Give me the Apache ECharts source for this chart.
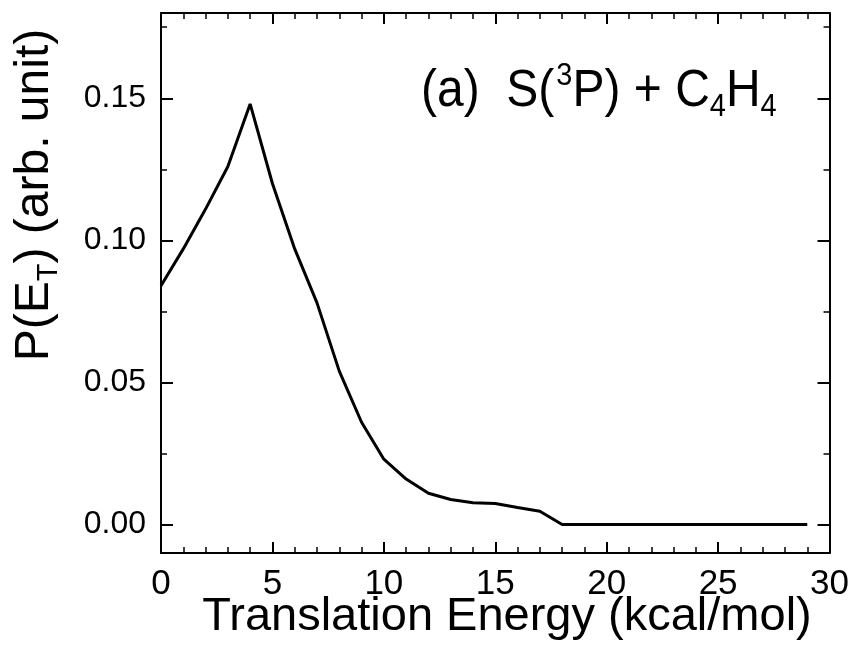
<!DOCTYPE html>
<html><head><meta charset="utf-8">
<script src="https://cdn.jsdelivr.net/npm/echarts@6/dist/echarts.min.js"></script>
<style>html,body{margin:0;padding:0;background:#fff}#c{width:852px;height:662px}</style>
</head><body><div id="c"></div>
<script>
const energy = [0,1,2,3,4,5,6,7,8,9,10,11,12,13,14,15,16,17,18,19,20,21,22,23,24,25,26,27,28,29];
const probability = [0.084,0.097,0.111,0.126,0.148,0.120,0.097,0.078,0.054,0.036,0.023,0.016,0.011,0.0088,0.0077,0.0074,0.006,0.0047,0,0,0,0,0,0,0,0,0,0,0,0];
const xRange = [0, 30];
const xInterval = 5;
const yRange = [-0.01, 0.18];
const yMajorTicks = [0, 0.05, 0.10, 0.15];
const yMinorTicks = [0.025, 0.075, 0.125, 0.175];
const xTitle = 'Translation Energy (kcal/mol)';
const yTitleRich = '{n|P(E}{sub|T}{n|) (arb. unit)}';
const annotationRich = '{n|(a)  S(}{sup|3}{n|P) + C}{sub|4}{n|H}{sub|4}';

const FONT = '"Liberation Sans", Arial, sans-serif';
const chart = echarts.init(document.getElementById('c'), null, {renderer: 'canvas'});
const points = energy.map((e, i) => [e, probability[i]]);

function xAx(pos, showLabel) {
  return {
    type: 'value', position: pos, min: xRange[0], max: xRange[1], interval: xInterval,
    axisLine: {show: true, onZero: false, lineStyle: {color: '#000', width: 2}},
    axisTick: {show: true, inside: true, length: 11, lineStyle: {color: '#000', width: 2}},
    minorTick: {show: true, splitNumber: 5, length: 6, lineStyle: {color: '#000', width: 1.5}},
    axisLabel: {show: showLabel, fontSize: 35, color: '#000', fontFamily: FONT, margin: 14},
    splitLine: {show: false}, minorSplitLine: {show: false}
  };
}
function yAx(pos, ticks, len, showLine, showLabel) {
  return {
    type: 'value', position: pos, offset: 0, min: yRange[0], max: yRange[1],
    axisLine: {show: showLine, onZero: false, lineStyle: {color: '#000', width: 2}},
    axisTick: {show: true, inside: true, length: len, customValues: ticks, lineStyle: {color: '#000', width: len > 8 ? 2 : 1.5}},
    axisLabel: {show: showLabel, customValues: ticks, fontSize: 32, color: '#000', fontFamily: FONT, margin: 15,
      formatter: v => v.toFixed(2)},
    splitLine: {show: false}
  };
}

chart.setOption({
  backgroundColor: '#fff',
  animation: false,
  grid: {left: 161, right: 22, top: 13, bottom: 109, containLabel: false},
  xAxis: [xAx('bottom', true), xAx('top', false)],
  yAxis: [
    yAx('left', yMajorTicks, 12, true, true),
    yAx('right', yMajorTicks, 12, true, false),
    yAx('left', yMinorTicks, 6, false, false),
    yAx('right', yMinorTicks, 6, false, false)
  ],
  series: [{
    type: 'line', data: points, xAxisIndex: 0, yAxisIndex: 0,
    showSymbol: false, symbol: 'none', smooth: false,
    lineStyle: {color: '#000', width: 3}
  }],
  graphic: [
    {type: 'text', x: 507, y: 617, style: {text: xTitle, font: '47px ' + FONT, fill: '#000', textAlign: 'center', textVerticalAlign: 'middle'}},
    {type: 'text', x: 35, y: 195, rotation: Math.PI / 2, style: {
      text: yTitleRich, fill: '#000', textAlign: 'center', textVerticalAlign: 'middle',
      rich: {
        n: {fontSize: 48, fontFamily: FONT, fill: '#000', lineHeight: 56, verticalAlign: 'middle'},
        sub: {fontSize: 29, fontFamily: FONT, fill: '#000', lineHeight: 56, verticalAlign: 'bottom'}
      }}},
    {type: 'text', x: 421, y: 92, scaleY: 1.08, style: {
      text: annotationRich, fill: '#000', textAlign: 'left', textVerticalAlign: 'middle',
      rich: {
        n: {fontSize: 48, fontFamily: FONT, fill: '#000', lineHeight: 58, verticalAlign: 'middle'},
        sup: {fontSize: 29, fontFamily: FONT, fill: '#000', lineHeight: 58, verticalAlign: 'top', padding: [0, 0, 0, 2]},
        sub: {fontSize: 29, fontFamily: FONT, fill: '#000', lineHeight: 58, verticalAlign: 'bottom'}
      }}}
  ]
});
</script></body></html>
